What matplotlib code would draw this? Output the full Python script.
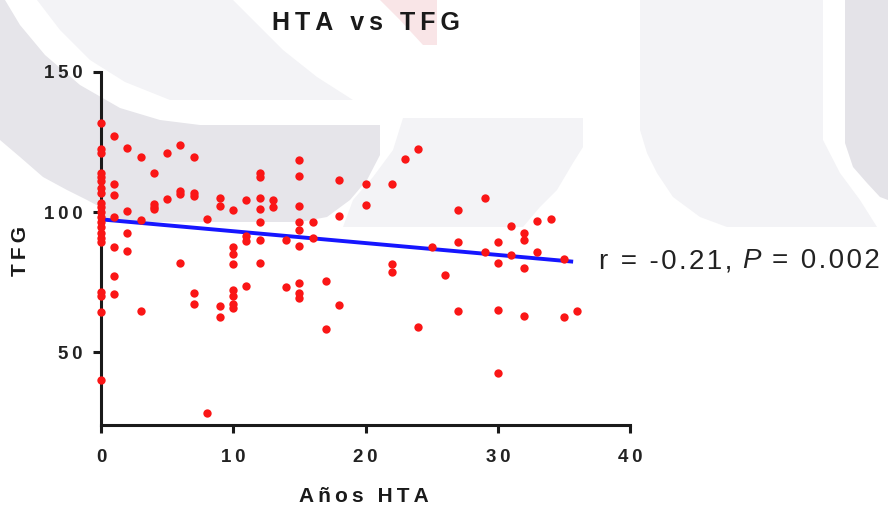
import matplotlib
matplotlib.use("Agg")
import matplotlib.pyplot as plt
from matplotlib.patches import Polygon
from matplotlib.transforms import Affine2D

plt.rcParams['font.family'] = ['Liberation Sans', 'DejaVu Sans']

# ---------------- data ----------------
anos_hta = (
    [0] * 21 +
    [1] * 7 +
    [2] * 4 +
    [3] * 3 +
    [4] * 4 +
    [5] * 2 +
    [6] * 4 +
    [7] * 5 +
    [8] * 2 +
    [9] * 4 +
    [10] * 8 +
    [11] * 4 +
    [12] * 7 +
    [13] * 2 +
    [14] * 2 +
    [15] * 9 +
    [16] * 2 +
    [17] * 2 +
    [18] * 3 +
    [20] * 2 +
    [22] * 3 +
    [23] * 1 +
    [24] * 2 +
    [25] * 1 +
    [26] * 1 +
    [27] * 3 +
    [29] * 2 +
    [30] * 4 +
    [31] * 2 +
    [32] * 4 +
    [33] * 2 +
    [34] * 1 +
    [35] * 2 +
    [36] * 1
)
tfg = [
    # 0
    131.7, 122.5, 121.0, 113.9, 112.6, 111.2, 106.7, 103.3, 101.9, 100.1,
    98.3, 96.5, 94.8, 92.4, 90.6, 89.4, 71.5, 70.0, 64.4, 40.0, 108.5,
    # 1
    127.1, 109.9, 106.1, 98.1, 87.4, 77.1, 70.6,
    # 2
    122.7, 100.4, 92.7, 86.2,
    # 3
    119.6, 97.3, 64.6,
    # 4
    113.8, 102.8, 101.8, 101.0,
    # 5
    121.0, 104.6,
    # 6
    123.8, 107.6, 106.3, 82.0,
    # 7
    119.6, 106.9, 105.7, 71.2, 67.1,
    # 8
    97.5, 28.3,
    # 9
    105.1, 102.3, 66.5, 62.4,
    # 10
    100.7, 87.7, 85.2, 81.4, 72.2, 69.9, 67.3, 65.9,
    # 11
    104.3, 91.4, 89.7, 73.6,
    # 12
    113.8, 112.6, 105.2, 101.1, 96.5, 90.0, 81.7,
    # 13
    104.4, 101.9,
    # 14
    90.1, 73.1,
    # 15
    118.6, 113.0, 102.0, 96.4, 93.7, 87.8, 74.8, 71.2, 69.2,
    # 16
    96.6, 90.7,
    # 17
    75.5, 58.1,
    # 18
    111.4, 98.6, 66.7,
    # 20
    110.1, 102.7,
    # 22
    109.9, 81.6, 78.6,
    # 23
    118.8,
    # 24
    122.5, 59.0,
    # 25
    87.4,
    # 26
    77.5,
    # 27
    100.7, 89.4, 64.6,
    # 29
    104.9, 85.7,
    # 30
    89.4, 82.0, 65.1, 42.6,
    # 31
    94.9, 84.6,
    # 32
    92.7, 90.0, 80.1, 63.0,
    # 33
    96.8, 85.8,
    # 34
    97.4,
    # 35
    83.4, 62.6,
    # 36
    64.6,
]
fit_x = [0, 35.7]
fit_y = [97.4, 82.3]

x_ticks = [0, 10, 20, 30, 40]
y_ticks = [50, 100, 150]
title = "HTA vs TFG"
x_label = "Años HTA"
y_label = "TFG"
stat_r = "r = -0.21,"
stat_p_sym = "P"
stat_p = "= 0.002"

# ---------------- figure ----------------
W, H = 888, 508
fig = plt.figure(figsize=(W / 100, H / 100), dpi=100)
fig.patch.set_facecolor("white")

pix = Affine2D().scale(1 / W, -1 / H).translate(0, 1) + fig.transFigure

# faint background watermark shapes
dark = "#e6e5ea"
light = "#f3f3f6"
pink = "#f9e5e7"
shapes = [
    ([(0, 0), (5, 0), (20, 25), (45, 55), (80, 85), (120, 108), (160, 120),
      (200, 125), (380, 125), (380, 155), (367, 180), (350, 200), (327, 217),
      (300, 222), (100, 222), (100, 207), (87, 200), (67, 190), (43, 177),
      (20, 157), (0, 140)], dark),
    ([(37, 0), (233, 0), (253, 20), (283, 50), (317, 77), (353, 100),
      (170, 100), (125, 82), (90, 60), (60, 30)], light),
    ([(403, 118), (583, 118), (583, 147), (573, 163), (557, 190), (540, 207),
      (523, 227), (343, 227), (353, 200), (373, 177), (393, 150)], light),
    ([(640, 0), (823, 0), (823, 140), (840, 173), (860, 200), (877, 227),
      (727, 227), (700, 217), (673, 197), (657, 173), (647, 153),
      (640, 130)], light),
    ([(845, 0), (888, 0), (888, 200), (880, 197), (867, 183), (853, 167),
      (845, 143)], "#e4e3e8"),
    ([(380, 0), (437, 0), (437, 45), (423, 45), (400, 20)], pink),
]
for pts, col in shapes:
    fig.patches.append(Polygon(pts, closed=True, facecolor=col,
                               edgecolor="none", transform=pix, zorder=-5,
                               figure=fig))

ax = fig.add_axes([101 / W, 1 - 425 / H, (630 - 101) / W, (425 - 72) / H])
ax.patch.set_visible(False)

ax.plot(fit_x, fit_y, color="#1616ff", lw=2.8, zorder=2, solid_capstyle="butt")
ax.scatter(anos_hta, tfg, s=6.0 ** 2, color="#fa1616", linewidths=0,
           zorder=3, clip_on=False)

ax.set_xlim(0, 40)
ax.set_ylim(24, 150)

for s in ("top", "right"):
    ax.spines[s].set_visible(False)
for s in ("left", "bottom"):
    ax.spines[s].set_linewidth(2.2)
    ax.spines[s].set_color("#1a1a1a")


def sp(s, gap="\u2009"):
    return gap.join(s)


ax.set_xticks(x_ticks, labels=[sp(str(v)) for v in x_ticks])
ax.set_yticks(y_ticks, labels=[sp(str(v)) for v in y_ticks])
ax.tick_params(axis="both", direction="out", length=6, width=2.2,
               color="#1a1a1a", labelsize=13.5, labelcolor="#222222")
ax.tick_params(axis="x", pad=11)
ax.tick_params(axis="y", pad=7)
for lab in ax.get_xticklabels() + ax.get_yticklabels():
    lab.set_fontweight("bold")

fig.text(365.5 / W, 1 - 30 / H, sp(title), ha="center", va="baseline",
         fontsize=18, fontweight="bold", color="#1a1a1a")
fig.text(364 / W, 1 - 502 / H, sp(x_label), ha="center", va="baseline",
         fontsize=15, fontweight="bold", color="#1a1a1a")
fig.text(20 / W, 1 - 251 / H, sp(y_label), ha="center", va="center",
         rotation=90, fontsize=15, fontweight="bold", color="#1a1a1a")

# correlation annotation (slightly letter-spaced, italic P)
base = 1 - 268 / H
fig.text(599 / W, base, sp(stat_r, "\u200a"), ha="left", va="baseline",
         fontsize=20, color="#222222")
fig.text(742 / W, base, stat_p_sym, ha="left", va="baseline",
         fontsize=20, style="italic", color="#222222")
fig.text(772 / W, base, sp(stat_p, "\u200a"), ha="left", va="baseline",
         fontsize=20, color="#222222")

fig.savefig("out.png", dpi=100)
